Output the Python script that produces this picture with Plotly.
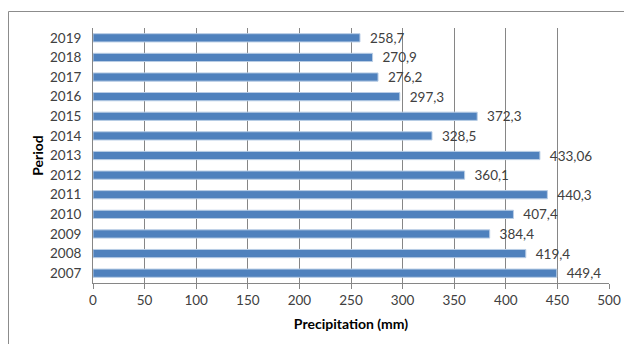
import plotly.graph_objects as go

years = ["2007", "2008", "2009", "2010", "2011", "2012", "2013",
         "2014", "2015", "2016", "2017", "2018", "2019"]
precip = [449.4, 419.4, 384.4, 407.4, 440.3, 360.1, 433.06,
          328.5, 372.3, 297.3, 276.2, 270.9, 258.7]
labels = ["449,4", "419,4", "384,4", "407,4", "440,3", "360,1", "433,06",
          "328,5", "372,3", "297,3", "276,2", "270,9", "258,7"]
x_ticks = [0, 50, 100, 150, 200, 250, 300, 350, 400, 450, 500]

W, H = 625, 345
L, R, T, B = 93, 16, 28, 62
FONT = "Lato, Liberation Sans, sans-serif"

fig = go.Figure(go.Bar(
    y=years, x=precip, orientation="h",
    marker=dict(color="#4F81BD", line=dict(color="#B9CDE5", width=1)),
    width=0.42,
    text=labels, texttemplate="  %{text}", textposition="outside",
    cliponaxis=False, constraintext="none",
    textfont=dict(family=FONT, size=13.5, color="#404040"),
))

fig.update_layout(
    width=W, height=H,
    margin=dict(l=L, r=R, t=T, b=B, autoexpand=False),
    plot_bgcolor="white", paper_bgcolor="white",
    showlegend=False,
    font=dict(family=FONT, size=13.5, color="#404040"),
    xaxis=dict(
        range=[0, 500], tickvals=x_ticks, ticktext=[str(v) for v in x_ticks],
        showgrid=True, gridcolor="#868686", gridwidth=1,
        showline=True, linecolor="#868686", linewidth=1,
        ticks="outside", ticklen=5, tickcolor="#868686",
        zeroline=False, automargin=False,
        title=dict(text="<b>Precipitation (mm)</b>", font=dict(size=14, color="#000000"), standoff=11),
    ),
    yaxis=dict(
        categoryorder="array", categoryarray=years,
        showline=True, linecolor="#868686", linewidth=1,
        ticks="", showgrid=False, automargin=False, ticklabelstandoff=8,
        title=dict(text="<b>Period</b>", font=dict(size=14, color="#000000"), standoff=3),
    ),
)

pw = W - L - R
ph = H - T - B
def px_to_paper_x(px):
    return (px - L) / pw
def px_to_paper_y(py):
    return 1 - (py - T) / ph

fig.add_shape(type="line", xref="paper", yref="paper",
              x0=px_to_paper_x(8.5), x1=px_to_paper_x(8.5),
              y0=px_to_paper_y(11.5), y1=px_to_paper_y(344),
              line=dict(color="#8C8C8C", width=1))
fig.add_shape(type="line", xref="paper", yref="paper",
              x0=px_to_paper_x(8.5), x1=px_to_paper_x(624),
              y0=px_to_paper_y(11.5), y1=px_to_paper_y(11.5),
              line=dict(color="#8C8C8C", width=1))

fig.write_html("out.html", config={"displayModeBar": False},
               post_script="document.body.style.margin='0';document.body.style.overflow='hidden';")
